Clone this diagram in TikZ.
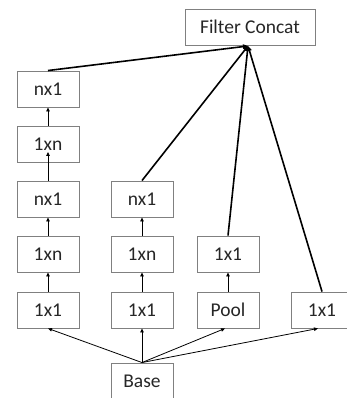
\documentclass[tikz,border=0pt]{standalone}
\usepackage{fontspec}
\setmainfont{Carlito}
\usetikzlibrary{arrows.meta}
\begin{document}
\begin{tikzpicture}[x=1pt,y=1pt,
  box/.style={draw=black!50, line width=0.9pt, minimum width=62pt, minimum height=36pt, inner sep=0pt, font=\fontsize{19.5}{21}\selectfont, text=black!85, fill=white},
  thin/.style={line width=0.8pt, -{Triangle[length=4pt,width=3.5pt]}},
  thick/.style={line width=1.6pt, -{Triangle[length=5pt,width=4.5pt]}}]
\useasboundingbox (0,0) rectangle (347,398);
\clip (0,0) rectangle (347,398);
% columns: x centres 48, 142, 228, 322 ; y = 398 - py
\node[box, minimum width=130pt] (fc) at (250,371) {Filter Concat};
\coordinate (fcp) at (248,352);
\node[box] (a5) at (48,309) {nx1};
\node[box] (a4) at (48,254) {1xn};
\node[box] (a3) at (48,199) {nx1};
\node[box] (a2) at (48,144) {1xn};
\node[box] (a1) at (48,88) {1x1};
\node[box] (b3) at (142,199) {nx1};
\node[box] (b2) at (142,144) {1xn};
\node[box] (b1) at (142,88) {1x1};
\node[box] (c2) at (228,144) {1x1};
\node[box] (c1) at (228,88) {Pool};
\node[box] (d1) at (322,88) {1x1};
\node[box] (base) at (142,17) {Base};
% thin arrows
\draw[thin] (base.north) -- (a1.south);
\draw[thin] (base.north) -- (b1.south);
\draw[thin] (base.north) -- ([xshift=-3pt]c1.south);
\draw[thin] (base.north) -- ([xshift=-4pt]d1.south);
\draw[thin] (a1) -- (a2);
\draw[thin] (a2) -- (a3);
\draw[thin] (a3.north) -- ([yshift=-8pt]a4.center);
\draw[thin] (a4) -- (a5);
\draw[thin] (b1) -- (b2);
\draw[thin] (b2) -- (b3);
\draw[thin] (c1) -- (c2);
% thick lines to concat
\draw[thick] (a5.north) -- (fcp);
\draw[thick] (b3.north) -- (fcp);
\draw[thick] (c2.north) -- (fcp);
\draw[thick] (d1.north) -- (fcp);
\end{tikzpicture}
\end{document}
